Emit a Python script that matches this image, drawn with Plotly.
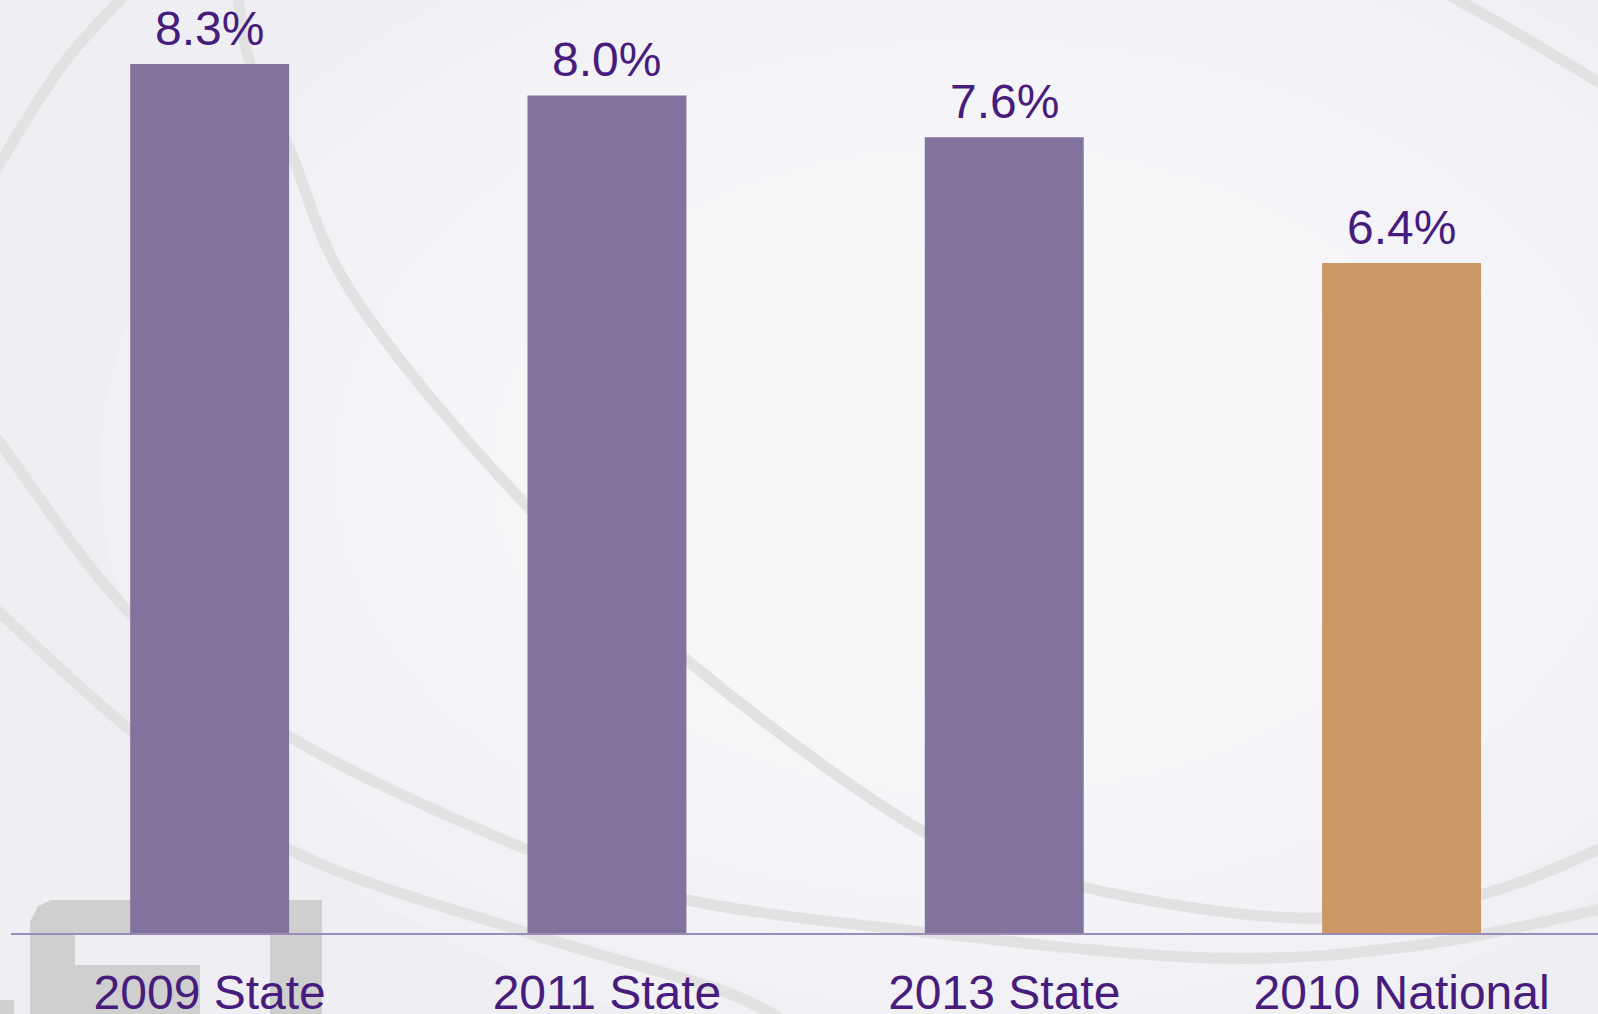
import plotly.graph_objects as go

# ---- data ----
categories = ["2009 State", "2011 State", "2013 State", "2010 National"]
values = [8.3, 8.0, 7.6, 6.4]
bar_colors = ["#82729E", "#82729E", "#82729E", "#CB9766"]
value_labels = [f"{v:.1f}%" for v in values]

# ---- layout geometry (pixels) ----
W, H = 1598, 1014
ML, MR, MT, MB = 11, 0, 0, 81
PW = W - ML - MR
PH = H - MT - MB
TEXT_PURPLE = "#461D7C"
FONT = "Arial, Liberation Sans, sans-serif"


def px(x, y):
    return ((x - ML) / PW, (MT + PH - y) / PH)


def smooth_path(pts):
    P = [px(x, y) for x, y in pts]
    d = f"M {P[0][0]:.5f},{P[0][1]:.5f}"
    n = len(P)
    for i in range(n - 1):
        p0 = P[i - 1] if i > 0 else P[i]
        p1 = P[i]
        p2 = P[i + 1]
        p3 = P[i + 2] if i + 2 < n else P[i + 1]
        c1 = (p1[0] + (p2[0] - p0[0]) / 6, p1[1] + (p2[1] - p0[1]) / 6)
        c2 = (p2[0] - (p3[0] - p1[0]) / 6, p2[1] - (p3[1] - p1[1]) / 6)
        d += f" C {c1[0]:.5f},{c1[1]:.5f} {c2[0]:.5f},{c2[1]:.5f} {p2[0]:.5f},{p2[1]:.5f}"
    return d


def poly_path(pts):
    P = [px(x, y) for x, y in pts]
    return "M " + " L ".join(f"{a:.5f},{b:.5f}" for a, b in P) + " Z"


shapes = []

# soft lighter centre of the background (many faint layers)
n_layers = 8
for k in range(n_layers):
    f = 1 - k / n_layers
    cx, cy = 980, 470
    rx, ry = 260 + 620 * f, 170 + 420 * f
    x0, y0 = px(cx - rx, cy + ry)
    x1, y1 = px(cx + rx, cy - ry)
    shapes.append(dict(type="circle", xref="paper", yref="paper", layer="below",
                       x0=x0, y0=y0, x1=x1, y1=y1,
                       fillcolor="rgba(255,255,255,0.12)", line=dict(width=0)))

# decorative watermark arcs (background)
arcs = [
    [(-30, 215), (20, 130), (70, 55), (135, -15)],
    [(236, -20), (250, 63), (290, 150), (350, 290), (500, 477), (687, 660),
     (924, 832), (1078, 886), (1300, 918), (1479, 895), (1620, 840)],
    [(-20, 420), (0, 443), (130, 613), (290, 737), (528, 850), (687, 900),
     (924, 932), (1212, 958), (1420, 945), (1620, 905)],
    [(-20, 595), (0, 613), (130, 730), (290, 850), (528, 933), (720, 990), (800, 1030)],
    [(1440, -10), (1520, 35), (1620, 95)],
]

for a in arcs:
    shapes.append(dict(type="path", xref="paper", yref="paper", layer="below",
                       path=smooth_path(a),
                       line=dict(color="#E2E2E3", width=11)))

# faint LSU block letters (partially visible)
lsu_polys = [
    [(30, 1030), (30, 922), (38, 906), (52, 900), (200, 900), (200, 935),
     (75, 935), (75, 965), (200, 965), (200, 1030)],
    [(270, 900), (322, 900), (322, 1030), (270, 1030)],
    [(-10, 1000), (14, 1000), (14, 1030), (-10, 1030)],
]
for p in lsu_polys:
    shapes.append(dict(type="path", xref="paper", yref="paper", layer="below",
                       path=poly_path(p), fillcolor="#CFCFCF",
                       line=dict(width=0)))

fig = go.Figure()
fig.add_trace(go.Bar(
    x=categories, y=values,
    marker=dict(color=bar_colors, line=dict(width=0)),
    width=0.4,
    hoverinfo="skip",
))

annotations = []
for c, v, t in zip(categories, values, value_labels):
    annotations.append(dict(
        x=c, y=v, xref="x", yref="y", text=t, showarrow=False,
        yanchor="bottom", yshift=7,
        font=dict(family=FONT, size=48, color=TEXT_PURPLE),
    ))

span = PW / 397.3
fig.update_layout(
    width=W, height=H,
    margin=dict(l=ML, r=MR, t=MT, b=MB, pad=0, autoexpand=False),
    paper_bgcolor="#EFEEF3",
    plot_bgcolor="rgba(0,0,0,0)",
    showlegend=False,
    shapes=shapes,
    annotations=annotations,
    xaxis=dict(
        range=[-0.5, -0.5 + span],
        automargin=False,
        showgrid=False, zeroline=False,
        showline=True, linecolor="#9A8CB6", linewidth=2,
        ticks="", ticklabelstandoff=16,
        tickfont=dict(family=FONT, size=48, color=TEXT_PURPLE),
        fixedrange=True,
    ),
    yaxis=dict(
        range=[0, PH / 104.7],
        automargin=False,
        visible=False, showgrid=False, zeroline=False,
        fixedrange=True,
    ),
)

fig.write_html("out.html", config={"displayModeBar": False},
               post_script="document.body.style.margin='0px';document.body.style.overflow='hidden';")
